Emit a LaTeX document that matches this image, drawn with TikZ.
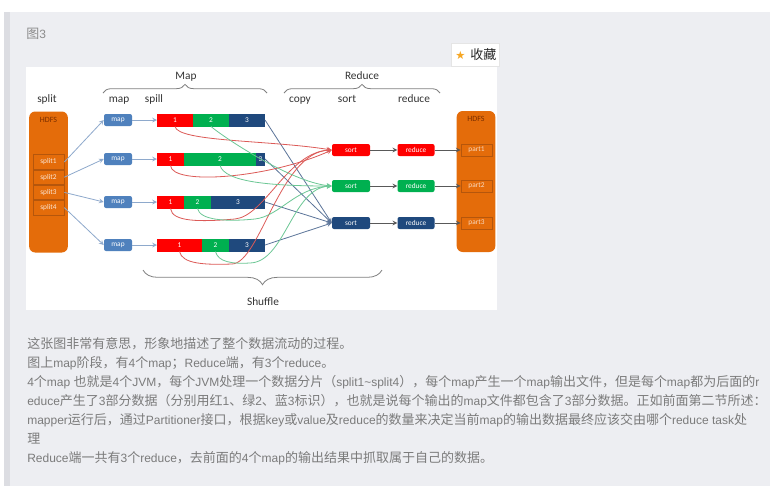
\documentclass[tikz,border=0pt]{standalone}
\usepackage{fontspec}
\setmainfont{Carlito}
\newfontfamily\cjk{Noto Sans CJK SC}
\newfontfamily\latinfam[Scale=0.923]{Liberation Sans}
\newfontfamily\symb{DejaVu Sans}
\newcommand\latn[1]{{\latinfam #1}}
\usetikzlibrary{positioning, decorations.pathreplacing, arrows}
\definecolor{panel}{HTML}{EDEEF2}
\definecolor{panelrule}{HTML}{DCDDE2}
\definecolor{hdfs}{HTML}{E46C0A}
\definecolor{hdfsedge}{HTML}{B5560C}
\definecolor{hdfstext}{HTML}{7A2E00}
\definecolor{mapblue}{HTML}{4F81BD}
\definecolor{pred}{HTML}{FF0000}
\definecolor{pgreen}{HTML}{00B050}
\definecolor{pblue}{HTML}{1F497D}
\definecolor{feed}{HTML}{8EA9CC}
\definecolor{cred}{HTML}{DC5A57}
\definecolor{cgreen}{HTML}{6CC795}
\definecolor{cblue}{HTML}{5B7499}
\definecolor{arrowgray}{HTML}{595959}
\definecolor{bracegray}{HTML}{808080}
\definecolor{bodytext}{HTML}{7B7B7B}
\definecolor{stargold}{HTML}{F6A623}

\begin{document}
\begin{tikzpicture}[
  x=0.75pt, y=-0.75pt,
  hdfsbox/.style={rectangle, rounded corners=4.5pt, fill=hdfs,
                  minimum width=29pt, minimum height=105.75pt, inner sep=0pt},
  slot/.style={rectangle, draw=hdfsedge, line width=0.5pt,
               minimum width=23.25pt, minimum height=10.9pt, inner sep=0pt,
               font=\fontsize{5.5}{6}\selectfont, text=white!85!hdfs},
  mapbox/.style={rectangle, rounded corners=1.5pt, fill=mapblue,
                 minimum width=21pt, minimum height=9pt, inner sep=0pt,
                 font=\fontsize{5.5}{6}\selectfont, text=white},
  seg/.style={rectangle, minimum height=9.75pt, inner sep=0pt, outer sep=0pt,
              font=\fontsize{5.5}{6}\selectfont, text=white},
  task/.style={rectangle, rounded corners=1.5pt, minimum height=9pt,
               inner sep=0pt, font=\fontsize{5.5}{6}\selectfont, text=white},
  stage/.style={anchor=base, font=\fontsize{8.5}{10}\selectfont, text=black!80, inner sep=0pt},
  feedline/.style={->, >=stealth, draw=feed, line width=0.6pt},
  passline/.style={->, >=stealth, draw=arrowgray, line width=0.6pt},
  fetch/.style={->, >=stealth, line width=0.6pt},
  groupbrace/.style={decorate, decoration={brace, amplitude=6.5pt},
                     draw=bracegray, line width=0.6pt},
  body/.style={anchor=base west, inner sep=0pt, text=bodytext,
               font=\cjk\fontsize{9.75}{11}\selectfont}
]

  \fill[white] (0,0) rectangle (778,486);
  \fill[panel] (4,12) rectangle (770,486);
  \fill[panelrule] (4,12) rectangle (10,486);
  \useasboundingbox (0,0) rectangle (778,486);

  \node[body, text=black!45] (figtitle) at (26,38) {图\latn{3}};
  \node[draw=black!10, fill=white, minimum width=36pt, minimum height=17.25pt,
        inner sep=0pt] (fav) at (475,54.5) {};
  \node[anchor=west, inner sep=0pt, font=\symb\fontsize{8.5}{10}\selectfont,
        text=stargold] (star) at (455,55) {★};
  \node[body, text=black!85] (favtext) at (470,59) {收藏};

  \fill[white] (26,67) rectangle (497,310);

  \node[stage] (maplbl)     at (186,79)  {Map};
  \node[stage] (redlbl)     at (362,79)  {Reduce};
  \node[stage] (splitlbl)   at (47,102)  {split};
  \node[stage] (maphead)    at (119,102) {map};
  \node[stage] (spillhead)  at (154,102) {spill};
  \node[stage] (copyhead)   at (300,102) {copy};
  \node[stage] (sorthead)   at (347,102) {sort};
  \node[stage] (reducehead) at (414,102) {reduce};
  \node[stage] (shufflelbl) at (263,305) {Shuffle};
  \draw[groupbrace] (103,93) -- (267,93);
  \draw[groupbrace] (284,93) -- (440,93);
  \draw[groupbrace, decoration={brace, amplitude=11pt}] (382,270) -- (143,270);

  \node[hdfsbox] (srcfs) at (48.5,182) {};
  \node[stage, anchor=north, font=\fontsize{6}{7}\selectfont, text=hdfstext,
        below=4pt of srcfs.north] (srcfslbl) {HDFS};
  \node[slot] (split1) at (48.5,162) {split1};
  \node[slot, below=0pt of split1] (split2) {split2};
  \node[slot, below=0pt of split2] (split3) {split3};
  \node[slot, below=0pt of split3] (split4) {split4};

  \foreach \i/\y in {1/120, 2/159, 3/202, 4/245}
    \node[mapbox] (map\i) at (118,\y) {map};

  \foreach \i/\y/\a/\b/\c in {1/120/27pt/27pt/27pt, 2/159/20.25pt/54pt/6.75pt,
                              3/202/20.25pt/20.25pt/40.5pt, 4/245/33.75pt/20.25pt/27pt} {
    \node[seg, fill=pred, minimum width=\a, anchor=west] (red\i) at (157,\y) {1};
    \node[seg, fill=pgreen, minimum width=\b, right=0pt of red\i] (green\i) {2};
    \node[seg, fill=pblue, minimum width=\c, right=0pt of green\i] (blue\i) {3};
  }

  \node[hdfsbox] (sinkfs) at (476,181.5) {};
  \node[stage, anchor=north, font=\fontsize{6}{7}\selectfont, text=hdfstext,
        below=4pt of sinkfs.north] (sinkfslbl) {HDFS};
  \foreach \k/\y/\c in {1/150/pred, 2/186/pgreen, 3/223/pblue} {
    \node[task, fill=\c, minimum width=28.5pt] (sort\k) at (351,\y) {sort};
    \node[task, fill=\c, minimum width=27.75pt, right=20.25pt of sort\k] (reduce\k) {reduce};
    \node[slot, minimum height=9pt, text=white!75!hdfs] (part\k) at (476.5,\y) {part\k};
  }

  \foreach \i in {1,...,4} {
    \draw[feedline] (split\i.east) -- (map\i.west);
    \draw[feedline] (map\i.east) -- (red\i.west);
    \draw[fetch, draw=cblue] (blue\i.east) -- (sort3.west);
  }
  \foreach \k in {1,2,3} {
    \draw[passline] (sort\k) -- (reduce\k);
    \draw[passline] (reduce\k) -- (part\k);
  }

  \draw[fetch, draw=cred] (red1.south) .. controls (178,142) and (270,140) .. (sort1.west);
  \draw[fetch, draw=cred] (red2.south) .. controls (172,186) and (270,178) .. (sort1.west);
  \draw[fetch, draw=cred] (red3.south) .. controls (172,222) and (200,222) .. (235,219)
                          .. controls (265,216) and (288,152) .. (sort1.west);
  \draw[fetch, draw=cred] (red4.south) .. controls (182,264) and (205,265) .. (232,264)
                          .. controls (260,263) and (280,152) .. (sort1.west);
  \draw[fetch, draw=cgreen] (green1.south) .. controls (222,136) and (290,182) .. (sort2.west);
  \draw[fetch, draw=cgreen] (green2.south) .. controls (225,182) and (270,186) .. (sort2.west);
  \draw[fetch, draw=cgreen] (green3.south) .. controls (200,220) and (225,222) .. (255,219)
                            .. controls (280,216) and (295,188) .. (sort2.west);
  \draw[fetch, draw=cgreen] (green4.south) .. controls (218,262) and (232,264) .. (250,263)
                            .. controls (285,262) and (292,188) .. (sort2.west);

  \node[body] (line1) at (27,348) {这张图非常有意思，形象地描述了整个数据流动的过程。};
  \node[body] (line2) at (27,367) {图上\latn{map}阶段，有\latn{4}个\latn{map}；\latn{Reduce}端，有\latn{3}个\latn{reduce}。};
  \node[body] (line3) at (27,386) {\latn{4}个\latn{map }也就是\latn{4}个\latn{JVM}，每个\latn{JVM}处理一个数据分片（\latn{split1\textasciitilde split4}），每个\latn{map}产生一个\latn{map}输出文件，但是每个\latn{map}都为后面的\latn{r}};
  \node[body] (line4) at (27,405) {\latn{educe}产生了\latn{3}部分数据（分别用红\latn{1}、绿\latn{2}、蓝\latn{3}标识），也就是说每个输出的\latn{map}文件都包含了\latn{3}部分数据。正如前面第二节所述：};
  \node[body] (line5) at (27,424) {\latn{mapper}运行后，通过\latn{Partitioner}接口，根据\latn{key}或\latn{value}及\latn{reduce}的数量来决定当前\latn{map}的输出数据最终应该交由哪个\latn{reduce task}处};
  \node[body] (line6) at (27,443) {理};
  \node[body] (line7) at (27,462) {\latn{Reduce}端一共有\latn{3}个\latn{reduce}，去前面的\latn{4}个\latn{map}的输出结果中抓取属于自己的数据。};

\end{tikzpicture}
\end{document}
